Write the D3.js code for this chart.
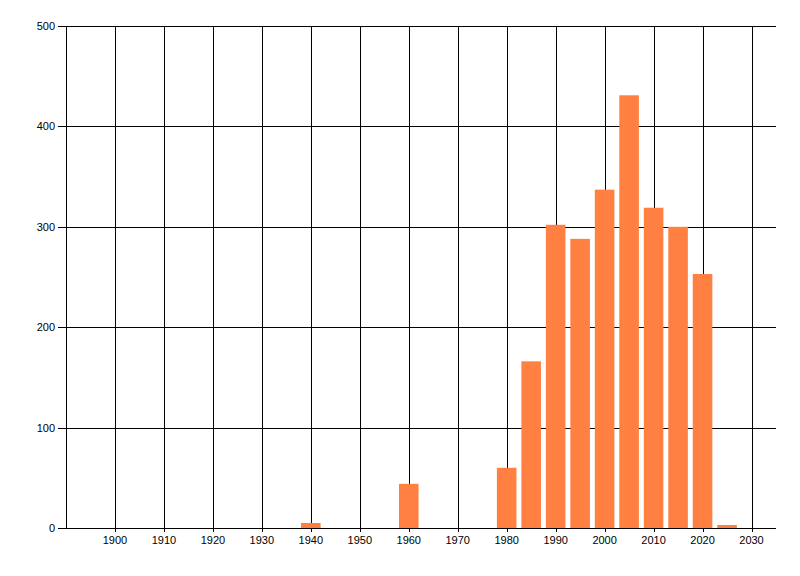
<!DOCTYPE html>
<html>
<head>
<meta charset="utf-8">
<script src="https://cdn.jsdelivr.net/npm/d3@7"></script>
<style>
  body { margin: 0; background: #fff; }
  text { font-family: "Liberation Sans", Arial, sans-serif; font-size: 11px; fill: #000; }
</style>
</head>
<body>
<div id="chart"></div>
<script>
// Bar data: year (bar centre) and count
const years = [1940, 1960, 1980, 1985, 1990, 1995, 2000, 2005, 2010, 2015, 2020, 2025];
const counts = [5, 44, 60, 166, 302, 288, 337, 431, 319, 300, 253, 3];

// Tick values
const xTicks = [1900, 1910, 1920, 1930, 1940, 1950, 1960, 1970, 1980, 1990, 2000, 2010, 2020, 2030];
const yTicks = [0, 100, 200, 300, 400, 500];

const data = years.map((y, i) => ({year: y, count: counts[i]}));

// Dimensions
const totalWidth = 800, totalHeight = 576;
const margin = {top: 26, right: 24, bottom: 48, left: 66};
const width = totalWidth - margin.left - margin.right;
const height = totalHeight - margin.top - margin.bottom;

const svg = d3.select("#chart")
    .append("svg")
    .attr("width", totalWidth)
    .attr("height", totalHeight)
    .append("g")
    .attr("transform", `translate(${margin.left},${margin.top})`);

// Scales
const x = d3.scaleLinear()
    .domain([1890, 2035])
    .range([0, width]);

const y = d3.scaleLinear()
    .domain([0, 500])
    .range([height, 0]);

const barYears = 4; // bar width in years

// Vertical grid lines (extend a little below the axis as ticks)
svg.append("g")
    .selectAll("line")
    .data(xTicks)
    .enter()
    .append("line")
    .attr("x1", d => Math.round(x(d)) + 0.5)
    .attr("x2", d => Math.round(x(d)) + 0.5)
    .attr("y1", 0)
    .attr("y2", height + 4)
    .attr("stroke", "#000")
    .attr("stroke-width", 1);

// Horizontal grid lines (extend left as ticks)
svg.append("g")
    .selectAll("line")
    .data(yTicks)
    .enter()
    .append("line")
    .attr("x1", -8)
    .attr("x2", width)
    .attr("y1", d => Math.round(y(d)) + 0.5)
    .attr("y2", d => Math.round(y(d)) + 0.5)
    .attr("stroke", "#000")
    .attr("stroke-width", 1);

// Left axis line
svg.append("line")
    .attr("x1", 0.5)
    .attr("x2", 0.5)
    .attr("y1", 0)
    .attr("y2", height)
    .attr("stroke", "#000");

// Bars
svg.append("g")
    .selectAll("rect")
    .data(data)
    .enter()
    .append("rect")
    .attr("x", d => x(d.year - barYears / 2))
    .attr("width", d => x(d.year + barYears / 2) - x(d.year - barYears / 2))
    .attr("y", d => y(d.count))
    .attr("height", d => y(0) - y(d.count))
    .attr("fill", "#ff8040");

// Redraw the zero line over the bars
svg.append("line")
    .attr("x1", -8)
    .attr("x2", width)
    .attr("y1", Math.round(y(0)) + 0.5)
    .attr("y2", Math.round(y(0)) + 0.5)
    .attr("stroke", "#000");

// Y tick labels
svg.append("g")
    .selectAll("text")
    .data(yTicks)
    .enter()
    .append("text")
    .attr("x", -11)
    .attr("y", d => y(d))
    .attr("dy", "0.36em")
    .attr("text-anchor", "end")
    .text(d => d);

// X tick labels
svg.append("g")
    .selectAll("text")
    .data(xTicks)
    .enter()
    .append("text")
    .attr("x", d => x(d))
    .attr("y", height + 16)
    .attr("text-anchor", "middle")
    .text(d => d);
</script>
</body>
</html>
